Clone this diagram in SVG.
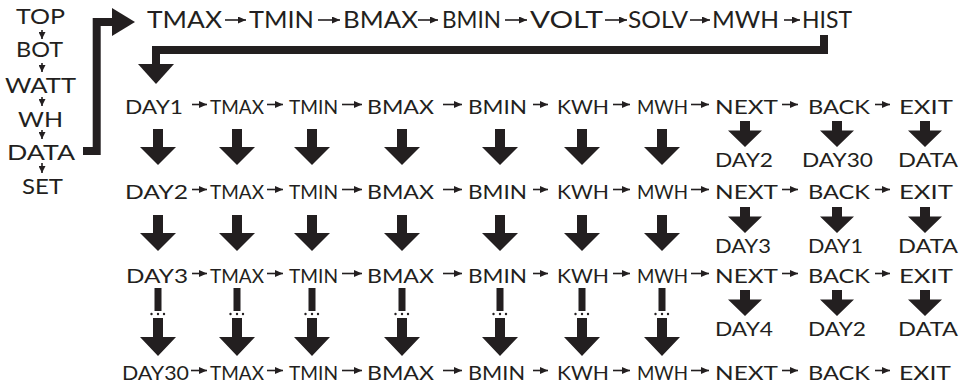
<svg xmlns="http://www.w3.org/2000/svg" xmlns:xlink="http://www.w3.org/1999/xlink" width="969" height="385" viewBox="0 0 969 385">
<style>
text{font-family:Lato,"Liberation Sans",sans-serif;fill:#231f20}
.l{font-size:21px}
.h{font-size:22.5px}
.r{font-size:20px}
.s{font-size:18.5px}
.d{font-size:19.5px}
.sm{stroke:#231f20;stroke-width:1.6;fill:none}
.br{stroke:#231f20;stroke-width:8;fill:none;stroke-linejoin:miter}
.f{fill:#231f20}
</style>
<defs>
<marker id="ah" markerUnits="userSpaceOnUse" markerWidth="8" markerHeight="7" refX="8" refY="3.5" orient="auto"><path d="M0,0 L8,3.5 L0,7 z" fill="#231f20"/></marker>
<marker id="av" markerUnits="userSpaceOnUse" markerWidth="7" markerHeight="7" refX="7" refY="3.5" orient="auto"><path d="M0,0 L7,3.5 L0,7 z" fill="#231f20"/></marker>
<polygon id="big" points="-5,0 5,0 5,18 18,18 0,36 -18,18 -5,18" fill="#231f20"/>
<polygon id="mid" points="-5,0 5,0 5,9.5 17,9.5 0,26 -17,9.5 -5,9.5" fill="#231f20"/>
<g id="dot">
<rect x="-3.5" y="0" width="7" height="23" fill="#231f20"/>
<circle cx="-6.5" cy="26" r="1.2" fill="#231f20"/>
<circle cx="0" cy="26" r="1.2" fill="#231f20"/>
<circle cx="6" cy="26" r="1.2" fill="#231f20"/>
<polygon points="-5,30 5,30 5,49 18,49 0,68 -18,49 -5,49" fill="#231f20"/>
</g>
</defs>

<g id="menu">
<g id="n-top"><text class="l" x="16" y="24" textLength="49" lengthAdjust="spacingAndGlyphs">TOP</text></g>
<g id="n-bot"><text class="l" x="16" y="57" textLength="47" lengthAdjust="spacingAndGlyphs">BOT</text></g>
<g id="n-watt"><text class="l" x="5" y="93" textLength="71" lengthAdjust="spacingAndGlyphs">WATT</text></g>
<g id="n-wh"><text class="l" x="18" y="127" textLength="45" lengthAdjust="spacingAndGlyphs">WH</text></g>
<g id="n-data"><text class="l" x="7" y="160" textLength="68" lengthAdjust="spacingAndGlyphs">DATA</text></g>
<g id="n-set"><text class="l" x="22" y="194" textLength="41" lengthAdjust="spacingAndGlyphs">SET</text></g>
</g>

<g id="top-row">
<g id="t-tmax"><text class="h" x="147" y="28" textLength="75" lengthAdjust="spacingAndGlyphs">TMAX</text></g>
<g id="t-tmin"><text class="h" x="249" y="28" textLength="65" lengthAdjust="spacingAndGlyphs">TMIN</text></g>
<g id="t-bmax"><text class="h" x="343" y="28" textLength="75" lengthAdjust="spacingAndGlyphs">BMAX</text></g>
<g id="t-bmin"><text class="h" x="442" y="28" textLength="59" lengthAdjust="spacingAndGlyphs">BMIN</text></g>
<g id="t-volt"><text class="h" x="530" y="28" textLength="73" lengthAdjust="spacingAndGlyphs">VOLT</text></g>
<g id="t-solv"><text class="h" x="628" y="28" textLength="60" lengthAdjust="spacingAndGlyphs">SOLV</text></g>
<g id="t-mwh"><text class="h" x="712" y="28" textLength="67" lengthAdjust="spacingAndGlyphs">MWH</text></g>
<g id="t-hist"><text class="h" x="802" y="28" textLength="50" lengthAdjust="spacingAndGlyphs">HIST</text></g>
</g>

<g id="row1">
<g id="r1-day"><text class="r" x="125" y="114" textLength="58" lengthAdjust="spacingAndGlyphs">DAY1</text></g>
<g id="r1-tmax"><text class="s" x="210" y="114" textLength="54" lengthAdjust="spacingAndGlyphs">TMAX</text></g>
<g id="r1-tmin"><text class="s" x="289" y="114" textLength="49" lengthAdjust="spacingAndGlyphs">TMIN</text></g>
<g id="r1-bmax"><text class="r" x="367" y="114" textLength="67" lengthAdjust="spacingAndGlyphs">BMAX</text></g>
<g id="r1-bmin"><text class="r" x="468" y="114" textLength="59" lengthAdjust="spacingAndGlyphs">BMIN</text></g>
<g id="r1-kwh"><text class="r" x="557" y="114" textLength="52" lengthAdjust="spacingAndGlyphs">KWH</text></g>
<g id="r1-mwh"><text class="s" x="637" y="114" textLength="51" lengthAdjust="spacingAndGlyphs">MWH</text></g>
<g id="r1-next"><text class="r" x="715" y="114" textLength="63" lengthAdjust="spacingAndGlyphs">NEXT</text></g>
<g id="r1-back"><text class="r" x="808" y="114" textLength="62" lengthAdjust="spacingAndGlyphs">BACK</text></g>
<g id="r1-exit"><text class="r" x="899" y="114" textLength="54" lengthAdjust="spacingAndGlyphs">EXIT</text></g>
<g id="r1-next-to"><text class="d" x="715" y="167" textLength="58" lengthAdjust="spacingAndGlyphs">DAY2</text></g>
<g id="r1-back-to"><text class="d" x="802" y="167" textLength="71" lengthAdjust="spacingAndGlyphs">DAY30</text></g>
<g id="r1-exit-to"><text class="d" x="898" y="167" textLength="60" lengthAdjust="spacingAndGlyphs">DATA</text></g>
</g>

<g id="row2">
<g id="r2-day"><text class="r" x="125" y="199" textLength="63" lengthAdjust="spacingAndGlyphs">DAY2</text></g>
<g id="r2-tmax"><text class="s" x="210" y="199" textLength="54" lengthAdjust="spacingAndGlyphs">TMAX</text></g>
<g id="r2-tmin"><text class="s" x="289" y="199" textLength="49" lengthAdjust="spacingAndGlyphs">TMIN</text></g>
<g id="r2-bmax"><text class="r" x="367" y="199" textLength="67" lengthAdjust="spacingAndGlyphs">BMAX</text></g>
<g id="r2-bmin"><text class="r" x="468" y="199" textLength="59" lengthAdjust="spacingAndGlyphs">BMIN</text></g>
<g id="r2-kwh"><text class="r" x="557" y="199" textLength="52" lengthAdjust="spacingAndGlyphs">KWH</text></g>
<g id="r2-mwh"><text class="s" x="637" y="199" textLength="51" lengthAdjust="spacingAndGlyphs">MWH</text></g>
<g id="r2-next"><text class="r" x="715" y="199" textLength="63" lengthAdjust="spacingAndGlyphs">NEXT</text></g>
<g id="r2-back"><text class="r" x="808" y="199" textLength="62" lengthAdjust="spacingAndGlyphs">BACK</text></g>
<g id="r2-exit"><text class="r" x="899" y="199" textLength="54" lengthAdjust="spacingAndGlyphs">EXIT</text></g>
<g id="r2-next-to"><text class="d" x="715" y="253" textLength="56" lengthAdjust="spacingAndGlyphs">DAY3</text></g>
<g id="r2-back-to"><text class="d" x="808" y="253" textLength="55" lengthAdjust="spacingAndGlyphs">DAY1</text></g>
<g id="r2-exit-to"><text class="d" x="898" y="253" textLength="60" lengthAdjust="spacingAndGlyphs">DATA</text></g>
</g>

<g id="row3">
<g id="r3-day"><text class="r" x="126" y="283" textLength="62" lengthAdjust="spacingAndGlyphs">DAY3</text></g>
<g id="r3-tmax"><text class="s" x="210" y="283" textLength="54" lengthAdjust="spacingAndGlyphs">TMAX</text></g>
<g id="r3-tmin"><text class="s" x="289" y="283" textLength="49" lengthAdjust="spacingAndGlyphs">TMIN</text></g>
<g id="r3-bmax"><text class="r" x="367" y="283" textLength="67" lengthAdjust="spacingAndGlyphs">BMAX</text></g>
<g id="r3-bmin"><text class="r" x="468" y="283" textLength="59" lengthAdjust="spacingAndGlyphs">BMIN</text></g>
<g id="r3-kwh"><text class="r" x="557" y="283" textLength="52" lengthAdjust="spacingAndGlyphs">KWH</text></g>
<g id="r3-mwh"><text class="s" x="637" y="283" textLength="51" lengthAdjust="spacingAndGlyphs">MWH</text></g>
<g id="r3-next"><text class="r" x="715" y="283" textLength="63" lengthAdjust="spacingAndGlyphs">NEXT</text></g>
<g id="r3-back"><text class="r" x="808" y="283" textLength="62" lengthAdjust="spacingAndGlyphs">BACK</text></g>
<g id="r3-exit"><text class="r" x="899" y="283" textLength="54" lengthAdjust="spacingAndGlyphs">EXIT</text></g>
<g id="r3-next-to"><text class="d" x="715" y="336" textLength="58" lengthAdjust="spacingAndGlyphs">DAY4</text></g>
<g id="r3-back-to"><text class="d" x="808" y="336" textLength="58" lengthAdjust="spacingAndGlyphs">DAY2</text></g>
<g id="r3-exit-to"><text class="d" x="898" y="336" textLength="60" lengthAdjust="spacingAndGlyphs">DATA</text></g>
</g>

<g id="row4">
<g id="r4-day"><text class="r" x="122" y="380" textLength="67" lengthAdjust="spacingAndGlyphs">DAY30</text></g>
<g id="r4-tmax"><text class="s" x="210" y="380" textLength="54" lengthAdjust="spacingAndGlyphs">TMAX</text></g>
<g id="r4-tmin"><text class="s" x="289" y="380" textLength="49" lengthAdjust="spacingAndGlyphs">TMIN</text></g>
<g id="r4-bmax"><text class="r" x="367" y="380" textLength="67" lengthAdjust="spacingAndGlyphs">BMAX</text></g>
<g id="r4-bmin"><text class="r" x="468" y="380" textLength="57" lengthAdjust="spacingAndGlyphs">BMIN</text></g>
<g id="r4-kwh"><text class="r" x="557" y="380" textLength="52" lengthAdjust="spacingAndGlyphs">KWH</text></g>
<g id="r4-mwh"><text class="s" x="637" y="380" textLength="51" lengthAdjust="spacingAndGlyphs">MWH</text></g>
<g id="r4-next"><text class="r" x="715" y="380" textLength="63" lengthAdjust="spacingAndGlyphs">NEXT</text></g>
<g id="r4-back"><text class="r" x="808" y="380" textLength="62" lengthAdjust="spacingAndGlyphs">BACK</text></g>
<g id="r4-exit"><text class="r" x="899" y="380" textLength="52" lengthAdjust="spacingAndGlyphs">EXIT</text></g>
</g>

<g id="connectors">
<!-- left menu -->
<g class="sm" marker-end="url(#av)">
<line x1="42" y1="30" x2="42" y2="39"/>
<line x1="42" y1="63" x2="42" y2="72"/>
<line x1="42" y1="97" x2="42" y2="106"/>
<line x1="42" y1="130" x2="42" y2="139"/>
<line x1="42" y1="163" x2="42" y2="173"/>
</g>
<!-- brackets -->
<polyline class="br" points="83,151 96.7,151 96.7,22 113,22"/>
<polygon class="f" points="112,8 135,22 112,36"/>
<polyline class="br" points="824,35 824,50 156,50 156,65"/>
<polygon class="f" points="138,64 174,64 156,84"/>
<!-- top row arrows -->
<g class="sm" marker-end="url(#ah)">
<line x1="225" y1="20" x2="246" y2="20"/>
<line x1="318" y1="20" x2="340" y2="20"/>
<line x1="418" y1="20" x2="438" y2="20"/>
<line x1="505" y1="20" x2="527" y2="20"/>
<line x1="605" y1="20" x2="627" y2="20"/>
<line x1="690" y1="20" x2="710" y2="20"/>
<line x1="784" y1="20" x2="800" y2="20"/>
</g>
<!-- row horizontal arrows -->
<g class="sm" marker-end="url(#ah)">
<line x1="192" y1="104.5" x2="207" y2="104.5"/>
<line x1="267" y1="104.5" x2="283" y2="104.5"/>
<line x1="342" y1="104.5" x2="362" y2="104.5"/>
<line x1="443" y1="104.5" x2="462" y2="104.5"/>
<line x1="533" y1="104.5" x2="548" y2="104.5"/>
<line x1="613" y1="104.5" x2="630" y2="104.5"/>
<line x1="691" y1="104.5" x2="709" y2="104.5"/>
<line x1="782" y1="104.5" x2="798" y2="104.5"/>
<line x1="875" y1="104.5" x2="890" y2="104.5"/>

<line x1="192" y1="189.5" x2="207" y2="189.5"/>
<line x1="267" y1="189.5" x2="283" y2="189.5"/>
<line x1="342" y1="189.5" x2="362" y2="189.5"/>
<line x1="443" y1="189.5" x2="462" y2="189.5"/>
<line x1="533" y1="189.5" x2="548" y2="189.5"/>
<line x1="613" y1="189.5" x2="630" y2="189.5"/>
<line x1="691" y1="189.5" x2="709" y2="189.5"/>
<line x1="782" y1="189.5" x2="798" y2="189.5"/>
<line x1="875" y1="189.5" x2="890" y2="189.5"/>

<line x1="192" y1="273.5" x2="207" y2="273.5"/>
<line x1="267" y1="273.5" x2="283" y2="273.5"/>
<line x1="342" y1="273.5" x2="362" y2="273.5"/>
<line x1="443" y1="273.5" x2="462" y2="273.5"/>
<line x1="533" y1="273.5" x2="548" y2="273.5"/>
<line x1="613" y1="273.5" x2="630" y2="273.5"/>
<line x1="691" y1="273.5" x2="709" y2="273.5"/>
<line x1="782" y1="273.5" x2="798" y2="273.5"/>
<line x1="875" y1="273.5" x2="890" y2="273.5"/>

<line x1="191" y1="370.5" x2="207" y2="370.5"/>
<line x1="267" y1="370.5" x2="283" y2="370.5"/>
<line x1="342" y1="370.5" x2="362" y2="370.5"/>
<line x1="443" y1="370.5" x2="462" y2="370.5"/>
<line x1="533" y1="370.5" x2="548" y2="370.5"/>
<line x1="613" y1="370.5" x2="630" y2="370.5"/>
<line x1="691" y1="370.5" x2="709" y2="370.5"/>
<line x1="782" y1="370.5" x2="798" y2="370.5"/>
<line x1="875" y1="370.5" x2="890" y2="370.5"/>
</g>
<!-- big down arrows row1 to row2 -->
<use xlink:href="#big" x="158" y="129"/>
<use xlink:href="#big" x="237" y="129"/>
<use xlink:href="#big" x="312" y="129"/>
<use xlink:href="#big" x="402" y="129"/>
<use xlink:href="#big" x="500" y="129"/>
<use xlink:href="#big" x="582" y="129"/>
<use xlink:href="#big" x="662" y="129"/>
<!-- row2 to row3 -->
<use xlink:href="#big" x="158" y="215"/>
<use xlink:href="#big" x="237" y="215"/>
<use xlink:href="#big" x="312" y="215"/>
<use xlink:href="#big" x="402" y="215"/>
<use xlink:href="#big" x="500" y="215"/>
<use xlink:href="#big" x="582" y="215"/>
<use xlink:href="#big" x="662" y="215"/>
<!-- row3 to row4, dotted -->
<use xlink:href="#dot" x="158" y="288"/>
<use xlink:href="#dot" x="237" y="288"/>
<use xlink:href="#dot" x="312" y="288"/>
<use xlink:href="#dot" x="402" y="288"/>
<use xlink:href="#dot" x="500" y="288"/>
<use xlink:href="#dot" x="582" y="288"/>
<use xlink:href="#dot" x="662" y="288"/>
<!-- NEXT / BACK / EXIT targets -->
<use xlink:href="#mid" x="745" y="121"/>
<use xlink:href="#mid" x="837" y="121"/>
<use xlink:href="#mid" x="925" y="121"/>
<use xlink:href="#mid" x="745" y="207"/>
<use xlink:href="#mid" x="837" y="207"/>
<use xlink:href="#mid" x="925" y="207"/>
<use xlink:href="#mid" x="745" y="290"/>
<use xlink:href="#mid" x="837" y="290"/>
<use xlink:href="#mid" x="925" y="290"/>
</g>
</svg>
